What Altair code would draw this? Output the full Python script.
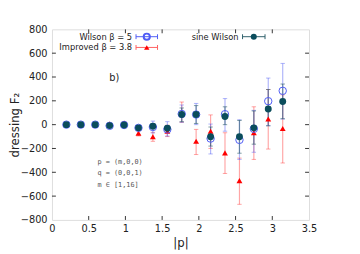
import altair as alt
import pandas as pd

# |p| positions (m * pi/16, m = 1..16)
p_abs = [0.196, 0.393, 0.589, 0.785, 0.982, 1.178, 1.374, 1.571,
         1.767, 1.963, 2.160, 2.356, 2.553, 2.749, 2.945, 3.142]

wil_val = [0, 0, 0, -10, -3, -27, -20, -40, 90, 85, -117, 88, -128, -35, 197, 284]
wil_lo = [-6, -6, -6, -18, -12, -47, -70, -96, 20, 0, -246, -55, -292, -232, -8, 47]
wil_hi = [6, 6, 6, 2, 8, -7, 30, 25, 165, 178, 5, 219, 41, 120, 391, 514]

imp_val = [3, 0, 0, 5, 14, -71, -101, -55, 96, -140, -55, -237, -470, -68, 47, -33]
imp_lo = [-4, -4, -4, -5, 0, -95, -140, -100, 20, -251, -200, -410, -669, -292, -205, -322]
imp_hi = [8, 4, 4, 12, 25, -45, -65, -5, 190, -40, 82, -68, -281, 150, 295, 251]

sin_val = [0, 0, 0, -8, -3, -27, -14, -30, 85, 85, -101, 68, -101, -27, 131, 194]
sin_lo = [-5, -5, -5, -14, -10, -38, -28, -46, 25, 10, -180, 0, -240, -164, -10, 50]
sin_hi = [5, 5, 5, 0, 4, -16, 0, -14, 140, 160, -20, 150, 35, 115, 295, 341]

x_ticks = [0, 0.5, 1, 1.5, 2, 2.5, 3, 3.5]
y_ticks = [-800, -600, -400, -200, 0, 200, 400, 600, 800]

W, H = 263, 195
FONT = "DejaVu Sans"
TXT = "#222222"

xs = alt.Scale(domain=[0, 3.5], nice=False, zero=False)
ys = alt.Scale(domain=[-800, 800], nice=False, zero=False)

axis_x = alt.Axis(values=x_ticks, ticks=False, domain=False, grid=False,
                  format="~g", labelOverlap=False,
                  labelFont=FONT, labelFontSize=10, labelColor=TXT,
                  labelPadding=4, title="|p|", titleFont=FONT, titleFontSize=12,
                  titleFontWeight="normal", titleColor=TXT, titlePadding=4,
                  labelFlush=False)
axis_y = alt.Axis(values=y_ticks, ticks=False, domain=False, grid=False,
                  format="d", labelOverlap=False,
                  labelFont=FONT, labelFontSize=10, labelColor=TXT,
                  labelPadding=5, title="dressing F₂", titleFont=FONT,
                  titleFontSize=12, titleFontWeight="normal", titleColor=TXT,
                  titleX=-38, titleY=H / 2, titleAlign="center",
                  titleBaseline="middle", titleAngle=270, labelFlush=False)

def X(f):
    return alt.X(f, scale=xs, axis=axis_x)

def Y(f):
    return alt.Y(f, scale=ys, axis=axis_y)

def frame(vals, lo, hi):
    return pd.DataFrame({"p": p_abs, "v": vals, "lo": lo, "hi": hi})

df_w = frame(wil_val, wil_lo, wil_hi)
df_i = frame(imp_val, imp_lo, imp_hi)
df_s = frame(sin_val, sin_lo, sin_hi)

CAP = "M-1,0L1,0"

def errbars(df, color, opacity):
    base = alt.Chart(df)
    rule = base.mark_rule(color=color, opacity=opacity, strokeWidth=1.2).encode(
        x=X("p:Q"), y=Y("lo:Q"), y2="hi:Q")
    cap_lo = base.mark_point(shape=CAP, size=20, color=color, opacity=opacity,
                             filled=False, strokeWidth=1).encode(
        x=X("p:Q"), y=Y("lo:Q"))
    cap_hi = base.mark_point(shape=CAP, size=20, color=color, opacity=opacity,
                             filled=False, strokeWidth=1).encode(
        x=X("p:Q"), y=Y("hi:Q"))
    return [rule, cap_lo, cap_hi]

BLUE = "#4f5cf5"
RED = "#ff0000"
TEAL = "#0b4d5c"

layers = []
layers += errbars(df_i, RED, 0.35)
layers += errbars(df_w, BLUE, 0.45)
layers += errbars(df_s, "#2e5f6b", 0.6)

pts_i = alt.Chart(df_i).mark_point(shape="triangle-up", filled=True, color=RED,
                                   size=36, opacity=1).encode(x=X("p:Q"), y=Y("v:Q"))
pts_w = alt.Chart(df_w).mark_point(shape="circle", filled=False, color=BLUE,
                                   size=58, strokeWidth=1, opacity=1).encode(
    x=X("p:Q"), y=Y("v:Q"))
pts_s = alt.Chart(df_s).mark_point(shape="circle", filled=True, color=TEAL,
                                   size=50, opacity=1).encode(x=X("p:Q"), y=Y("v:Q"))
layers += [pts_i, pts_w, pts_s]

# inward ticks on all four sides
tx = pd.DataFrame({"t": x_ticks[1:-1]})
ty = pd.DataFrame({"t": y_ticks[1:-1]})
TL = 4
layers.append(alt.Chart(tx).mark_rule(color="#333").encode(
    x=X("t:Q"), y=alt.value(H), y2=alt.value(H - TL)))
layers.append(alt.Chart(tx).mark_rule(color="#333").encode(
    x=X("t:Q"), y=alt.value(0), y2=alt.value(TL)))
layers.append(alt.Chart(ty).mark_rule(color="#333").encode(
    y=Y("t:Q"), x=alt.value(0), x2=alt.value(TL)))
layers.append(alt.Chart(ty).mark_rule(color="#333").encode(
    y=Y("t:Q"), x=alt.value(W - TL), x2=alt.value(W)))

# annotations
ann = pd.DataFrame({"x": [0.78], "y": [393], "t": ["b)"]})
layers.append(alt.Chart(ann).mark_text(font=FONT, fontSize=10, align="left",
                                       baseline="middle", color=TXT).encode(
    x=X("x:Q"), y=Y("y:Q"), text="t:N"))

notes = pd.DataFrame({"x": [0.62, 0.62, 0.62], "y": [-314, -410, -505],
                      "t": ["p = (m,0,0)", "q = (0,0,1)", "m ∈ [1,16]"]})
layers.append(alt.Chart(notes).mark_text(font="DejaVu Sans Mono", fontSize=7,
                                         align="left", baseline="middle",
                                         color="#555").encode(
    x=X("x:Q"), y=Y("y:Q"), text="t:N"))

# legend (pixel positions inside the plot area)
def legend_entry(label, tx_right, x1, x2, yy, color, ecolor, shape, filled, size):
    d = pd.DataFrame({"t": [label]})
    out = []
    out.append(alt.Chart(d).mark_text(font=FONT, fontSize=8.5, align="right",
                                      baseline="middle", color=TXT).encode(
        x=alt.value(tx_right), y=alt.value(yy), text="t:N"))
    out.append(alt.Chart(d).mark_rule(color=ecolor, strokeWidth=1).encode(
        x=alt.value(x1), x2=alt.value(x2), y=alt.value(yy)))
    out.append(alt.Chart(d).mark_rule(color=ecolor, strokeWidth=1).encode(
        x=alt.value(x1), y=alt.value(yy - 2.5), y2=alt.value(yy + 2.5)))
    out.append(alt.Chart(d).mark_rule(color=ecolor, strokeWidth=1).encode(
        x=alt.value(x2), y=alt.value(yy - 2.5), y2=alt.value(yy + 2.5)))
    out.append(alt.Chart(d).mark_point(shape=shape, filled=filled, color=color,
                                       size=size, opacity=1).encode(
        x=alt.value((x1 + x2) / 2), y=alt.value(yy)))
    return out

layers += legend_entry("Wilson β = 5", 82, 86, 108, 7.5, BLUE, BLUE, "circle", False, 40)
layers += legend_entry("Improved β = 3.8", 82, 86, 108, 18.5, RED, "#ff6060", "triangle-up", True, 30)
layers += legend_entry("sine Wilson", 191, 195, 218, 7.5, TEAL, "#2e5f6b", "circle", True, 38)

chart = alt.layer(*layers).properties(
    width=W, height=H,
    autosize=alt.AutoSizeParams(type="none"),
    padding={"left": 45, "top": 19, "right": 44, "bottom": 32},
).configure_view(stroke="#222", strokeWidth=1).configure(background="white")

chart.save("out.html", embed_options={"renderer": "svg", "actions": False})
